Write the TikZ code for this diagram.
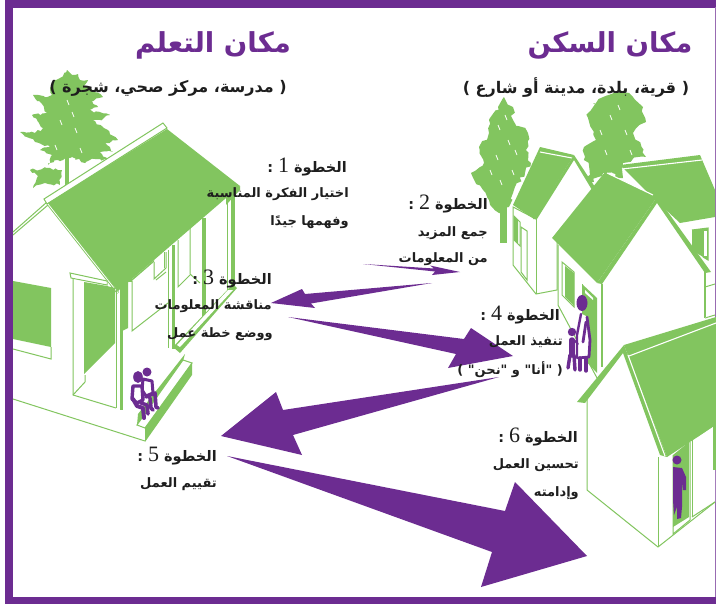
\documentclass[tikz,border=0pt]{standalone}
\usepackage{fontspec}
\usetikzlibrary{decorations.pathmorphing}
\TeXXeTstate=1
\newfontfamily\arb[Script=Arabic]{DejaVu Sans Bold}
\newfontfamily\numf{Liberation Serif}
\definecolor{hgreen}{HTML}{82C55F}
\definecolor{hpurple}{HTML}{6C2C91}
\definecolor{htext}{HTML}{1E1E1E}
\newcommand{\khatwa}[1]{\beginR الخطوة {\numf\fontsize{22}{22}\selectfont #1} :\endR}
\tikzset{
  gf/.style={fill=hgreen,draw=none},
  gl/.style={draw=hgreen,line width=1pt},
  wl/.style={draw=white,line width=1.1pt},
  pl/.style={draw=hpurple,line width=3pt,line cap=round,line join=round},
  leaf/.style={fill=hgreen,draw=none,decorate,decoration={random steps,segment length=3pt,amplitude=1.4pt}},
  lobe/.style={fill=hgreen,draw=none,decorate,decoration={random steps,segment length=4.5pt,amplitude=2.6pt}},
  title/.style={inner sep=0pt,text=hpurple,font=\arb\fontsize{27.5}{27.5}\selectfont},
  sub/.style={inner sep=0pt,text=htext,font=\arb\fontsize{16}{16}\selectfont},
  head/.style={inner sep=0pt,anchor=east,text=htext,font=\arb\fontsize{14.5}{14.5}\selectfont},
  body/.style={inner sep=0pt,anchor=east,text=htext,font=\arb\fontsize{13}{13}\selectfont}
}
\begin{document}
\begin{tikzpicture}[x=1pt,y=-1pt]
\useasboundingbox (0,0) rectangle (716,605);
\fill[white] (0,0) rectangle (716,605);
% frame
\fill[hpurple] (5,0) rectangle (716,7.5);
\fill[hpurple] (5,0) rectangle (13,604);
\fill[hpurple] (5,597) rectangle (716,604);
\fill[hpurple!70] (715,7) rectangle (716,597);

% trees
\pgfmathsetseed{11}
\path[leaf] (67,70)--(72,75)--(78,74)--(80,80)--(88,80)--(84,86)--(92,90)--(103,97)--(92,101)--(98,107)--(88,110)--(110,115)--(100,120)--(92,120)--(104,128)--(118,140)--(105,143)--(113,152)--(100,152)--(108,160)--(90,160)--(85,163)--(72,157)--(63,160)--(58,160)--(48,165)--(52,155)--(40,150)--(50,147)--(35,142)--(20,132)--(35,133)--(43,128)--(38,122)--(32,115)--(47,113)--(42,104)--(33,95)--(45,97)--(52,95)--(50,88)--(53,80)--(60,78)--cycle;
\path[leaf] (62,170)--(50,168)--(30,170)--(38,176)--(33,188)--(45,183)--(60,185)--cycle;
\fill[hgreen] (65,150) rectangle (69,190);
\path[lobe] (504,97)--(513,107)--(513,120)--(528,133)--(526,150)--(531,163)--(513,193)--(509,207)--(499,213)--(489,200)--(471,173)--(484,163)--(479,147)--(489,133)--(489,120)--(498,107)--cycle;
\fill[hgreen] (500,190) rectangle (507,243);
\path[lobe] (616,92)--(629,93)--(643,107)--(646,122)--(633,133)--(646,157)--(623,163)--(619,175)--(603,173)--(589,183)--(584,147)--(596,140)--(588,118)--(593,103)--cycle;
\fill[hgreen] (617,160) -- (621,160) -- (623,178) -- (615,178) -- cycle;
\foreach \a/\b in {67/100,60/120,75/128,55/145,80/148,72/112,498/125,508/140,496/155,512/170,500/180,490/170,505/115,515/150,610/115,625/130,605/150,630/150,618/105,600/130}{
  \draw[white,line width=0.8pt] (\a,\b) -- ++(2,5);
}

% left house
\draw[gl] (13,232) -- (47,202);
\draw[gl] (13,235) -- (48,205);
\draw[gl,fill=white] (44,199) -- (163,123) -- (167,128) -- (47,204) -- cycle;
\fill[hgreen] (48,203) -- (167,129) -- (240,186) -- (118,291) -- cycle;
\draw[hgreen,line width=2.6pt] (48,204) -- (118,293);
\draw[white,line width=0.8pt] (48,204) -- (118,293);
% under the porch roof
\fill[hgreen] (120,280) -- (128,272) -- (128,328) -- (120,332) -- cycle;
\fill[hgreen] (128,282) rectangle (132,270);
\fill[hgreen] (132,279) -- (154,260) -- (154,279) -- (132,292) -- cycle;
\fill[white] (132,281) -- (154,262) -- (154,279) -- (166,268) -- (166,252) -- (168,250) -- (168,303) -- (132,331) -- cycle;
\draw[gl] (132,281) -- (132,331) -- (168,303);
\draw[gl] (154,262) -- (154,279) -- (166,268) -- (166,252);
\draw[gl] (156,280) -- (166,272);
\draw[gl] (164,252) -- (164,268);
% wall columns
\draw[gl] (116,290) -- (116,408);
\fill[hgreen] (120,330) rectangle (123,410);
% left window
\fill[hgreen] (13,281) -- (51,288) -- (51,347) -- (13,339) -- cycle;
\draw[gl] (13,349) -- (51,359) -- (51,347);
% door
\draw[gl,fill=white] (70,273) -- (107,281) -- (107,285) -- (71,278) -- cycle;
\draw[gl] (73,278) -- (73,395) -- (116,408);
\draw[gl] (73,395) -- (85,382) -- (85,375);
\fill[hgreen] (84,282) -- (107,286) -- (115,288) -- (115,343) -- (84,374) -- cycle;
\draw[wl] (73,277) -- (107,283);
% porch posts
\draw[gl] (168,250) -- (168,348);
\fill[hgreen] (172,245) rectangle (175,349);
\draw[gl] (178,240) -- (178,287) -- (190,275);
\draw[gl] (190,228) -- (190,274) -- (200,283);
\fill[hgreen] (202,218) rectangle (206,322);
\draw[gl] (227,200) -- (227,290);
\fill[hgreen] (231,193) rectangle (235,290);
\fill[hgreen] (226,195) -- (240,186) -- (240,190) -- (226,205) -- cycle;
% porch floor bands
\fill[hgreen] (233,284) -- (237,288) -- (180,353) -- (173,347) -- cycle;
\fill[white] (228,290) -- (233,290) -- (180,347) -- (177,345) -- cycle;
% step
\fill[hgreen] (185,354) -- (138,414) -- (137,425) -- (183,361) -- cycle;
\draw[gl,fill=white] (183,360) -- (192,363) -- (145,428) -- (137,425) -- cycle;
\fill[hgreen] (192,363) -- (192,375) -- (145,442) -- (145,428) -- cycle;
\draw[gl] (13,399) -- (145,441);
% seated people
\fill[hpurple] (138,377) ellipse (4.8 and 6);
\fill[hpurple] (147,372) circle (4.5);
\draw[pl,fill=white,line width=3pt] (143,379) -- (152,381) -- (153,393) -- (146,396) -- (142,390) -- cycle;
\draw[pl,line width=3.6pt] (146,397) -- (155,393) -- (156,407) -- (158,408);
\draw[pl,line width=3.6pt] (150,398) -- (151,408) -- (153,410);
\draw[pl,fill=white,line width=3.4pt] (133,386) -- (142,386) -- (143,400) -- (137,403) -- (132,399) -- cycle;
\draw[pl,line width=4pt] (133,399) -- (137,406) -- (143,408) -- (144,418);
\draw[pl,line width=3.6pt] (141,403) -- (147,405) -- (148,414);

% back-left house
\draw[gl,fill=white] (513,207) -- (513,265) -- (536,294) -- (557,290) -- (557,230) -- (536,219) -- cycle;
\fill[white] (536,219) -- (574,160) -- (595,190) -- (555,240) -- (555,288) -- (537,292) -- cycle;
\draw[gl] (536,219) -- (536,294);
\fill[hgreen] (540,147) -- (574,155) -- (534,219) -- (513,205) -- cycle;
\draw[wl] (540,152) -- (572,158);
\fill[hgreen] (574,155) -- (595,187) -- (592,190) -- (574,160) -- (537,219) -- (533,219) -- cycle;
\draw[gl] (514,216) -- (520,222) -- (520,246) -- (514,240) -- cycle;
\fill[hgreen] (514,216) -- (518,220) -- (518,244) -- (514,240) -- cycle;
\draw[gl] (521,227) -- (527,231) -- (527,280) -- (521,272) -- cycle;

% back-right house
\fill[hgreen] (620,165) -- (700,155) -- (715,190) -- (715,217) -- (680,223) -- (650,195) -- cycle;
\draw[wl] (622,169) -- (702,160);
\fill[hgreen] (692,230) -- (708,228) -- (708,260) -- (703,257) -- (692,250) -- cycle;
\draw[gl] (692,230) -- (708,228) -- (708,260) -- (703,257);
\fill[white] (704,231) rectangle (707,256);
\draw[gl] (705,273) -- (705,317);
\draw[gl] (705,287) -- (715,284);
\draw[gl] (705,318) -- (715,315);

% front house
\fill[white] (558,245) -- (602,284) -- (657,203) -- (704,272) -- (704,330) -- (602,380) -- (597,378) -- (558,305) -- cycle;
\draw[gl] (558,245) -- (558,305) -- (597,378);
\draw[gl] (704,272) -- (704,318);
\fill[hgreen] (605,172) -- (657,197) -- (597,283) -- (552,238) -- cycle;
\draw[wl] (607,173) -- (653,195);
\fill[hgreen] (657,197) -- (711,272) -- (705,273) -- (657,203) -- (602,284) -- (597,283) -- cycle;
\draw[gl] (562,262) -- (574,272) -- (574,307) -- (562,295) -- cycle;
\fill[hgreen] (565,266) -- (574,273) -- (574,306) -- (565,297) -- cycle;
\fill[hgreen] (582,284) -- (597,298) -- (597,373) -- (582,357) -- cycle;
\fill[white] (585,290) -- (593,298) -- (593,300) -- (585,293) -- cycle;
\draw[gl] (582,284) -- (582,350);
\draw[hgreen,line width=1.4pt] (602,284) -- (602,367);
% mother and child
\fill[hpurple] (582,303) ellipse (5.5 and 8);
\fill[white] (580,313) -- (588,317) -- (590,356) -- (578,358) -- (577,335) -- cycle;
\draw[pl,line width=2.4pt] (581,314) -- (577,335) -- (577,358);
\draw[pl,line width=2.8pt] (587,317) -- (590,340) -- (589,357) -- (578,358);
\draw[pl,line width=2.8pt] (586,322) -- (583,342);
\draw[pl,line width=3.4pt] (580,358) -- (580,370);
\draw[pl,line width=3.4pt] (586,358) -- (586,371);
\fill[hpurple] (572,332) circle (4.2);
\draw[pl,line width=5.5pt] (572,340) -- (572,355);
\draw[pl,line width=3.4pt] (570,355) -- (568,368);
\draw[pl,line width=3.4pt] (574,355) -- (575,370);
\draw[pl,line width=2pt] (574,340) -- (578,344);

% front-right house
\fill[white] (587,395) -- (623,353) -- (660,455) -- (672,453) -- (715,425) -- (715,502) -- (658,547) -- (587,490) -- cycle;
\draw[gl] (587,395) -- (587,490) -- (658,547) -- (715,502);
\draw[gl] (658,457) -- (658,547);
\fill[hgreen] (624,345) -- (716,317) -- (716,425) -- (667,457) -- cycle;
\draw[wl] (629,356) -- (716,323);
\fill[hgreen] (624,345) -- (577,402) -- (585,403) -- (623,353) -- (660,455) -- (667,457) -- cycle;
\draw[wl] (628,355) -- (665,456);
\fill[hgreen] (673,455) -- (689,442) -- (689,517) -- (673,527) -- cycle;
\draw[gl] (673,455) -- (673,534) -- (690,520) -- (690,442);
\draw[gl] (692,440) -- (692,517);
\fill[white] (693,441) -- (713,427) -- (713,502) -- (693,515) -- cycle;
\fill[hgreen] (713,425) rectangle (716,470);
\draw[gl] (692,517) -- (715,502);
% man in door
\fill[hpurple] (677,460) circle (4.5);
\fill[hpurple] (673,467) -- (682,468) -- (686,477) -- (686,490) -- (683,490) -- (682,480) -- (682,507) -- (681,518) -- (677,519) -- (677,507) -- (674,515) -- (673,500) -- cycle;

% arrows
\fill[hpurple] (363,264) -- (434,268.5) -- (430,265.5) -- (460,272) -- (432,275) -- (435,271.5) -- cycle;
\fill[hpurple] (432,283) -- (305,294) -- (302,289) -- (271,303) -- (315,308) -- (311,303.5) -- cycle;
\fill[hpurple] (288,317) -- (464,339) -- (471,328) -- (513,356) -- (448,368) -- (456,354) -- cycle;
\fill[hpurple] (499,377) -- (283,410) -- (276,392) -- (221,436) -- (302,455) -- (293,435) -- cycle;
\fill[hpurple] (227,456) -- (505,511) -- (515,482) -- (587,556) -- (481,587) -- (492,552) -- cycle;

% text
\node[title] (t1) at (213,45) {\beginR مكان التعلم\endR};
\node[title] (t2) at (610,45) {\beginR مكان السكن\endR};
\node[sub] (s1) at (168,88) {\beginR( مدرسة، مركز صحي، شجرة )\endR};
\node[sub] (s2) at (576,88) {\beginR( قرية، بلدة، مدينة أو شارع )\endR};
\node[head] (h1) at (347,167) {\khatwa{1}};
\node[body] (b1a) at (349,194) {\beginR اختيار الفكرة المناسبة\endR};
\node[body] (b1b) at (349,222) {\beginR وفهمها جيدًا\endR};
\node[head] (h2) at (488,204) {\khatwa{2}};
\node[body] (b2a) at (488,233) {\beginR جمع المزيد\endR};
\node[body] (b2b) at (488,259) {\beginR من المعلومات\endR};
\node[head] (h3) at (272,279) {\khatwa{3}};
\node[body] (b3a) at (272,306) {\beginR مناقشة المعلومات\endR};
\node[body] (b3b) at (273,334) {\beginR ووضع خطة عمل\endR};
\node[head] (h4) at (560,315) {\khatwa{4}};
\node[body] (b4a) at (563,342) {\beginR تنفيذ العمل\endR};
\node[body] (b4b) at (563,370) {\beginR( "أنا" و "نحن" )\endR};
\node[head] (h5) at (217,456) {\khatwa{5}};
\node[body] (b5a) at (217,484) {\beginR تقييم العمل\endR};
\node[head] (h6) at (578,437) {\khatwa{6}};
\node[body] (b6a) at (579,465) {\beginR تحسين العمل\endR};
\node[body] (b6b) at (579,493) {\beginR وإدامته\endR};
\end{tikzpicture}
\end{document}
